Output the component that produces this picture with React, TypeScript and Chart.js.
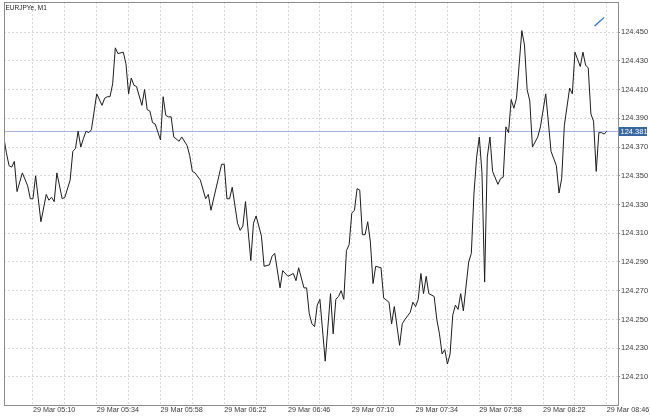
import React, { useEffect, useRef } from 'react';
import { Chart, registerables } from 'chart.js';

Chart.register(...registerables);

const symbolTitle = 'EURJPYe, M1';
const dateLabel = '29 Mar';

// minutes of day (M1 bars) and close prices
const minutes = [
  299, 300, 301, 302, 303, 304, 306, 308, 309, 310, 311, 313, 315, 316, 317, 318, 319, 321, 322, 324,
  325, 326, 327, 328, 329, 330, 331, 332, 334, 336, 337, 338, 339, 340, 341, 342, 344, 345, 346, 347,
  348, 349, 351, 352, 353, 354, 355, 356, 358, 359, 360, 361, 362, 363, 365, 366, 368, 369, 370, 371,
  373, 375, 376, 377, 381, 382, 383, 384, 385, 387, 388, 389, 390, 392, 393, 394, 396, 397, 399, 400,
  401, 403, 404, 406, 408, 409, 410, 412, 413, 414, 415, 416, 417, 418, 420, 422, 423, 424, 425, 426,
  427, 428, 429, 430, 431, 432, 433, 434, 435, 436, 437, 438, 439, 441, 442, 444, 445, 446, 448, 449,
  450, 452, 453, 454, 455, 456, 457, 458, 459, 461, 462, 463, 464, 465, 466, 467, 468, 469, 470, 471,
  472, 474, 475, 476, 477, 478, 479, 480, 481, 482, 483, 485, 486, 487, 488, 489, 490, 491, 492, 494,
  495, 496, 497, 498, 500, 501, 503, 505, 507, 508, 509, 510, 512, 513, 514, 516, 517, 518, 519, 520,
  521, 522, 523, 524, 525, 526,
];

const closes = [
  124.377, 124.366, 124.357, 124.356, 124.360, 124.339, 124.352, 124.343, 124.334, 124.334, 124.350, 124.318, 124.337, 124.333, 124.335, 124.332, 124.352, 124.334, 124.335, 124.347,
  124.367, 124.369, 124.381, 124.370, 124.376, 124.381, 124.380, 124.382, 124.407, 124.399, 124.404, 124.405, 124.405, 124.414, 124.439, 124.435, 124.436, 124.428, 124.407, 124.418,
  124.413, 124.412, 124.399, 124.410, 124.396, 124.395, 124.387, 124.386, 124.375, 124.405, 124.392, 124.391, 124.391, 124.377, 124.374, 124.377, 124.371, 124.364, 124.353, 124.352,
  124.347, 124.334, 124.337, 124.326, 124.358, 124.358, 124.334, 124.334, 124.342, 124.317, 124.312, 124.315, 124.332, 124.291, 124.317, 124.322, 124.308, 124.287, 124.288, 124.294,
  124.296, 124.272, 124.284, 124.280, 124.282, 124.277, 124.286, 124.272, 124.272, 124.254, 124.247, 124.245, 124.260, 124.264, 124.221, 124.268, 124.240, 124.264, 124.266, 124.270,
  124.264, 124.298, 124.302, 124.324, 124.326, 124.341, 124.340, 124.309, 124.309, 124.318, 124.304, 124.275, 124.287, 124.286, 124.265, 124.262, 124.247, 124.259, 124.232, 124.247,
  124.250, 124.255, 124.262, 124.259, 124.264, 124.282, 124.268, 124.280, 124.268, 124.266, 124.250, 124.240, 124.226, 124.229, 124.219, 124.226, 124.253, 124.260, 124.257, 124.268,
  124.256, 124.290, 124.296, 124.338, 124.363, 124.377, 124.352, 124.276, 124.363, 124.377, 124.353, 124.344, 124.348, 124.349, 124.384, 124.380, 124.403, 124.397, 124.404, 124.451,
  124.441, 124.410, 124.402, 124.370, 124.377, 124.384, 124.407, 124.367, 124.357, 124.338, 124.348, 124.385, 124.411, 124.407, 124.436, 124.426, 124.436, 124.427, 124.425, 124.393,
  124.388, 124.353, 124.380, 124.380, 124.379, 124.381,
];

const timeTicks = [310, 322, 334, 346, 358, 370, 382, 394, 406, 418, 430, 442, 454, 466, 478, 490, 502, 514, 526];
const labelEvery = 24;
const priceTicks = [124.21, 124.23, 124.25, 124.27, 124.29, 124.31, 124.33, 124.35, 124.37, 124.39, 124.41, 124.43, 124.45];

const trendTimes = [521.4, 525.0];
const trendPrices = [124.4542, 124.4602];

const lastPrice = closes[closes.length - 1];

const FONT = '"Liberation Sans", Arial, Helvetica, sans-serif';

const fmtTime = (m: number) => {
  const h = Math.floor(m / 60);
  const mm = Math.round(m - h * 60);
  return `${dateLabel} ${String(h).padStart(2, '0')}:${String(mm).padStart(2, '0')}`;
};

const decorPlugin = {
  id: 'mtDecor',
  beforeDatasetsDraw(chart: any) {
    const { ctx, chartArea } = chart;
    const y = Math.round(chart.scales.y.getPixelForValue(lastPrice)) + 0.5;
    ctx.save();
    ctx.strokeStyle = '#a4b6dc';
    ctx.lineWidth = 1;
    ctx.beginPath();
    ctx.moveTo(chartArea.left, y);
    ctx.lineTo(chartArea.right, y);
    ctx.stroke();
    ctx.restore();
  },
  afterDraw(chart: any) {
    const { ctx, chartArea } = chart;
    ctx.save();
    // frame
    ctx.strokeStyle = '#8c8c8c';
    ctx.lineWidth = 1;
    ctx.strokeRect(
      Math.round(chartArea.left) + 0.5,
      Math.round(chartArea.top) + 0.5,
      Math.round(chartArea.right - chartArea.left),
      Math.round(chartArea.bottom - chartArea.top)
    );
    // title
    ctx.fillStyle = '#222';
    ctx.font = `6.5px ${FONT}`;
    ctx.textBaseline = 'middle';
    ctx.textAlign = 'left';
    ctx.fillText(symbolTitle, chartArea.left + 1.5, chartArea.top + 6.5);
    // current price box
    const y = Math.round(chart.scales.y.getPixelForValue(lastPrice));
    ctx.fillStyle = '#3767a1';
    ctx.fillRect(chartArea.right + 1, y - 4, 28, 9);
    ctx.fillStyle = '#ffffff';
    ctx.font = `7.5px ${FONT}`;
    ctx.fillText(lastPrice.toFixed(3), chartArea.right + 2.5, y + 0.5);
    ctx.restore();
  },
};

export default function App() {
  const canvasRef = useRef<HTMLCanvasElement | null>(null);

  useEffect(() => {
    if (!canvasRef.current) return;
    const chart = new Chart(canvasRef.current, {
      type: 'line',
      data: {
        datasets: [
          {
            label: 'close',
            data: minutes.map((m, i) => ({ x: m, y: closes[i] })),
            borderColor: '#1c1c1c',
            borderWidth: 1,
            pointRadius: 0,
            tension: 0,
            fill: false,
          },
          {
            label: 'trend',
            data: trendTimes.map((m, i) => ({ x: m, y: trendPrices[i] })),
            borderColor: '#2f6fd6',
            borderWidth: 1.3,
            pointRadius: 0,
            tension: 0,
            fill: false,
          },
        ],
      },
      options: {
        animation: false,
        responsive: false,
        maintainAspectRatio: false,
        events: [],
        layout: { padding: { left: 4, top: 2, right: 0, bottom: 0 } },
        plugins: {
          legend: { display: false },
          tooltip: { enabled: false },
          title: { display: false },
        },
        scales: {
          x: {
            type: 'linear',
            min: 299.1,
            max: 530.2,
            afterBuildTicks: (s: any) => {
              s.ticks = timeTicks.map((v) => ({ value: v }));
            },
            afterFit: (s: any) => {
              s.height = 11;
              s.paddingLeft = 0;
              s.paddingRight = 0;
            },
            grid: { color: '#dadada', lineWidth: 1, drawTicks: false },
            border: { display: false, dash: [2, 2] },
            ticks: {
              autoSkip: false,
              maxRotation: 0,
              minRotation: 0,
              align: 'start',
              padding: 1,
              color: '#3a3a3a',
              font: { family: FONT, size: 7.2 },
              callback: (v: any) => ((Number(v) - timeTicks[0]) % labelEvery === 0 ? fmtTime(Number(v)) : ''),
            },
          },
          y: {
            type: 'linear',
            position: 'right',
            min: 124.1905,
            max: 124.4709,
            afterBuildTicks: (s: any) => {
              s.ticks = priceTicks.map((v) => ({ value: v }));
            },
            afterFit: (s: any) => {
              s.width = 32;
              s.paddingTop = 0;
              s.paddingBottom = 0;
            },
            grid: { color: '#dadada', lineWidth: 1, drawTicks: true, tickLength: 2, tickColor: '#8c8c8c' },
            border: { display: false, dash: [2, 2] },
            ticks: {
              autoSkip: false,
              padding: 1,
              color: '#3a3a3a',
              font: { family: FONT, size: 7.5 },
              callback: (v: any) => Number(v).toFixed(3),
            },
          },
        },
      },
      plugins: [decorPlugin],
    } as any);
    return () => chart.destroy();
  }, []);

  return (
    <div style={{ position: 'fixed', left: 0, top: 0, width: 650, height: 416, background: '#fff' }}>
      <canvas ref={canvasRef} width={650} height={416} style={{ display: 'block', width: 650, height: 416 }} />
    </div>
  );
}
